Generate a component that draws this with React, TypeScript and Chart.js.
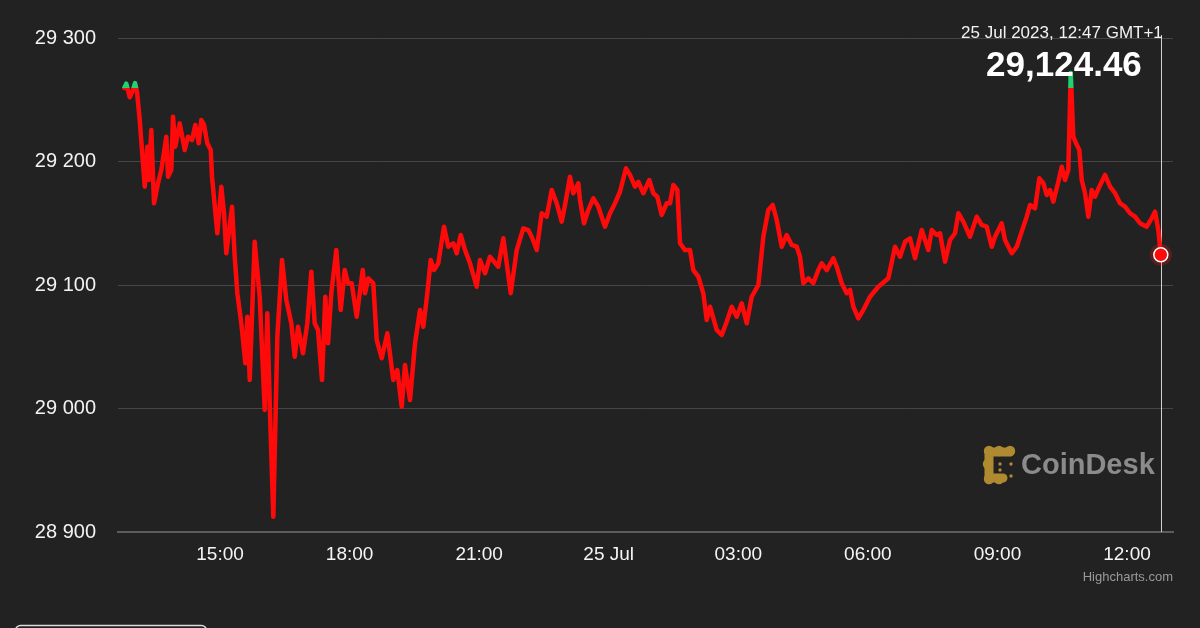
import { useEffect, useRef } from 'react';
import { Chart, registerables } from 'chart.js';

Chart.register(...registerables);

// time in hours since 24 Jul 2023 00:00 (GMT+1)
const hours = [
  12.783, 12.83, 12.91, 12.986, 13.032, 13.078, 13.141, 13.257, 13.317, 13.349,
  13.409, 13.472, 13.564, 13.641, 13.757, 13.796, 13.872, 13.912, 13.965, 14.067,
  14.183, 14.259, 14.352, 14.428, 14.507, 14.567, 14.63, 14.706, 14.785, 14.815,
  14.937, 15.03, 15.093, 15.146, 15.278, 15.34, 15.401, 15.493, 15.586, 15.632,
  15.688, 15.803, 15.919, 16.035, 16.095, 16.151, 16.234, 16.327, 16.436, 16.535,
  16.651, 16.73, 16.806, 16.922, 17.021, 17.114, 17.193, 17.269, 17.362, 17.438,
  17.501, 17.577, 17.693, 17.795, 17.887, 17.964, 18.049, 18.165, 18.304, 18.357,
  18.434, 18.549, 18.628, 18.744, 18.874, 19.012, 19.105, 19.207, 19.283, 19.399,
  19.515, 19.631, 19.707, 19.8, 19.878, 19.955, 20.054, 20.186, 20.286, 20.402,
  20.48, 20.573, 20.673, 20.788, 20.943, 21.02, 21.136, 21.251, 21.443, 21.559,
  21.638, 21.731, 21.87, 22.022, 22.138, 22.217, 22.333, 22.448, 22.564, 22.68,
  22.796, 22.912, 22.988, 23.104, 23.18, 23.296, 23.335, 23.428, 23.527, 23.643,
  23.759, 23.914, 24.03, 24.146, 24.261, 24.4, 24.493, 24.609, 24.685, 24.801,
  24.94, 25.033, 25.125, 25.227, 25.343, 25.419, 25.496, 25.588, 25.651, 25.766,
  25.882, 25.959, 26.075, 26.19, 26.269, 26.345, 26.5, 26.616, 26.732, 26.848,
  26.963, 27.079, 27.195, 27.311, 27.464, 27.58, 27.695, 27.797, 27.89, 28.006,
  28.121, 28.237, 28.353, 28.429, 28.506, 28.622, 28.737, 28.853, 28.932, 29.048,
  29.2, 29.279, 29.395, 29.511, 29.587, 29.664, 29.779, 29.895, 30.05, 30.242,
  30.474, 30.629, 30.745, 30.861, 30.976, 31.092, 31.247, 31.4, 31.479, 31.595,
  31.671, 31.787, 31.903, 32.018, 32.095, 32.21, 32.365, 32.52, 32.636, 32.752,
  32.868, 32.944, 33.099, 33.176, 33.331, 33.447, 33.562, 33.678, 33.755, 33.87,
  33.97, 34.063, 34.141, 34.218, 34.294, 34.41, 34.489, 34.565, 34.641, 34.697,
  34.757, 34.82, 34.896, 34.952, 35.028, 35.105, 35.183, 35.26, 35.359, 35.491,
  35.607, 35.723, 35.838, 35.954, 36.07, 36.186, 36.301, 36.456, 36.572, 36.649,
  36.725, 36.783,
];

const prices = [
  29259.5, 29263.0, 29252.0, 29257.9, 29263.5, 29256.3, 29233.6, 29179.6, 29212.0, 29185.0,
  29225.5, 29166.2, 29182.4, 29193.1, 29220.1, 29187.7, 29193.1, 29236.3, 29212.0, 29230.9,
  29209.3, 29220.1, 29217.4, 29229.6, 29214.7, 29233.6, 29229.6, 29214.7, 29209.3, 29187.7,
  29141.9, 29179.6, 29158.1, 29125.7, 29163.4, 29122.9, 29093.3, 29069.0, 29036.6, 29074.3,
  29023.1, 29135.1, 29090.5, 28998.8, 29077.1, 29004.2, 28912.4, 29058.1, 29120.2, 29087.9,
  29069.0, 29041.9, 29066.2, 29044.7, 29069.0, 29110.8, 29069.0, 29063.6, 29023.1, 29090.5,
  29052.8, 29093.3, 29128.3, 29079.8, 29112.1, 29101.4, 29101.4, 29074.3, 29112.1, 29093.3,
  29105.4, 29101.4, 29055.5, 29040.7, 29060.9, 29023.1, 29031.2, 29001.5, 29035.2, 29006.9,
  29052.8, 29079.8, 29066.2, 29093.3, 29120.2, 29112.1, 29117.6, 29147.2, 29131.0, 29133.8,
  29125.7, 29140.5, 29128.3, 29117.6, 29098.6, 29120.2, 29109.5, 29122.9, 29114.8, 29137.8,
  29117.6, 29093.3, 29128.3, 29145.9, 29144.5, 29139.1, 29128.3, 29158.1, 29155.3, 29176.9,
  29166.2, 29151.3, 29164.8, 29187.7, 29174.3, 29182.4, 29168.8, 29150.0, 29160.7, 29170.2,
  29163.4, 29147.2, 29158.1, 29166.2, 29175.5, 29194.5, 29189.1, 29179.6, 29183.6, 29174.3,
  29185.0, 29174.3, 29171.5, 29156.7, 29166.2, 29166.2, 29181.0, 29177.0, 29133.8, 29128.3,
  29128.3, 29112.1, 29106.7, 29093.3, 29071.7, 29082.4, 29063.6, 29059.5, 29070.3, 29082.4,
  29074.3, 29085.2, 29069.0, 29090.5, 29100.0, 29139.1, 29160.7, 29164.8, 29152.6, 29131.0,
  29140.5, 29132.4, 29131.0, 29122.9, 29101.4, 29105.4, 29101.4, 29112.1, 29117.6, 29112.1,
  29121.6, 29114.8, 29101.4, 29093.3, 29096.0, 29082.4, 29073.0, 29079.8, 29090.5, 29098.6,
  29105.4, 29131.0, 29122.9, 29135.1, 29137.8, 29121.6, 29144.5, 29128.3, 29144.5, 29140.5,
  29141.9, 29118.9, 29136.4, 29141.9, 29158.1, 29151.3, 29139.1, 29155.3, 29148.6, 29147.2,
  29131.0, 29139.1, 29150.0, 29136.4, 29125.7, 29131.0, 29143.2, 29155.3, 29164.8, 29162.1,
  29186.4, 29182.4, 29172.9, 29176.9, 29167.5, 29183.6, 29195.8, 29185.0, 29193.1, 29271.7,
  29220.1, 29214.7, 29209.3, 29185.0, 29174.3, 29155.3, 29176.9, 29171.5, 29179.6, 29189.1,
  29179.6, 29174.3, 29166.2, 29163.4, 29158.1, 29155.3, 29150.0, 29147.2, 29154.0, 29159.4,
  29144.5, 29124.46,
];

const xTickValues = [15, 18, 21, 24, 27, 30, 33, 36];
const xTickLabels = ['15:00', '18:00', '21:00', '25 Jul', '03:00', '06:00', '09:00', '12:00'];
const yTickValues = [28900, 29000, 29100, 29200, 29300];
const yTickLabels = ['28 900', '29 000', '29 100', '29 200', '29 300'];

const headerDate = '25 Jul 2023, 12:47 GMT+1';
const headerPrice = '29,124.46';
const watermark = 'CoinDesk';
const credit = 'Highcharts.com';

const FONT = '"Liberation Sans", Arial, Helvetica, sans-serif';
const RED = '#ff0a0a';
const GREEN = '#22cf72';
const BG = '#222222';

export default function App() {
  const canvasRef = useRef<HTMLCanvasElement | null>(null);

  useEffect(() => {
    const canvas = canvasRef.current;
    if (!canvas) return;
    const openPrice = prices[0];
    const lastIdx = hours.length - 1;

    const overlay = {
      id: 'overlay',
      beforeDatasetsDraw(chart: any) {
        const { ctx, chartArea, scales } = chart;
        const lx = Math.round(scales.x.getPixelForValue(hours[lastIdx])) + 0.5;
        ctx.save();
        // watermark logo
        ctx.fillStyle = '#b08a31';
        ctx.strokeStyle = '#b08a31';
        ctx.lineWidth = 9;
        ctx.lineCap = 'round';
        ctx.lineJoin = 'round';
        ctx.beginPath();
        ctx.moveTo(1010, 452);
        ctx.lineTo(989, 452);
        ctx.lineTo(989, 478);
        ctx.lineTo(1003, 478);
        ctx.stroke();
        const bumps = [[989, 451], [999, 451], [1010, 451], [988, 464], [989, 479], [999, 479]];
        bumps.forEach(([bx, by]) => {
          ctx.beginPath();
          ctx.arc(bx, by, 5.2, 0, Math.PI * 2);
          ctx.fill();
        });
        const dots = [[1000, 464], [1011, 464], [1011, 476], [1000, 470]];
        dots.forEach(([dx, dy]) => {
          ctx.beginPath();
          ctx.arc(dx, dy, 1.7, 0, Math.PI * 2);
          ctx.fill();
        });
        ctx.fillStyle = '#8b8b8b';
        ctx.font = `bold 29px ${FONT}`;
        ctx.textAlign = 'left';
        ctx.textBaseline = 'middle';
        ctx.fillText(watermark, 1021, 466);
        // crosshair
        ctx.strokeStyle = '#d0d0d0';
        ctx.lineWidth = 1;
        ctx.lineCap = 'butt';
        ctx.beginPath();
        ctx.moveTo(lx, chartArea.top - 3);
        ctx.lineTo(lx, chartArea.bottom);
        ctx.stroke();
        ctx.restore();
      },
      afterDatasetsDraw(chart: any) {
        const { ctx, chartArea, scales } = chart;
        const px = scales.x.getPixelForValue(hours[lastIdx]);
        const py = scales.y.getPixelForValue(prices[lastIdx]);
        ctx.save();
        // halo + marker
        ctx.fillStyle = 'rgba(255,20,20,0.25)';
        ctx.beginPath();
        ctx.arc(px, py, 11, 0, Math.PI * 2);
        ctx.fill();
        ctx.fillStyle = RED;
        ctx.strokeStyle = '#ffffff';
        ctx.lineWidth = 1.5;
        ctx.beginPath();
        ctx.arc(px, py, 7, 0, Math.PI * 2);
        ctx.fill();
        ctx.stroke();
        // header texts
        ctx.fillStyle = '#f2f2f2';
        ctx.textAlign = 'right';
        ctx.textBaseline = 'middle';
        ctx.font = `17px ${FONT}`;
        ctx.fillText(headerDate, px + 2, 33);
        ctx.fillStyle = '#ffffff';
        ctx.font = `bold 35px ${FONT}`;
        ctx.fillText(headerPrice, px - 19, 66);
        // credit
        ctx.fillStyle = '#9a9a9a';
        ctx.font = `13px ${FONT}`;
        ctx.fillText(credit, chartArea.right, 577);
        // bottom-left button outline
        ctx.strokeStyle = '#dcdcdc';
        ctx.lineWidth = 1.5;
        ctx.beginPath();
        (ctx as any).roundRect(15.5, 625.5, 191, 20, 5);
        ctx.stroke();
        ctx.restore();
      },
    };

    const chart = new Chart(canvas, {
      type: 'line',
      data: {
        datasets: [
          {
            data: hours.map((h, i) => ({ x: h, y: prices[i] })),
            borderWidth: 4.5,
            pointRadius: 0,
            tension: 0,
            borderJoinStyle: 'round',
            borderCapStyle: 'round',
            fill: false,
            borderColor: (c: any) => {
              const ch = c.chart;
              const area = ch.chartArea;
              if (!area) return RED;
              const yp = ch.scales.y.getPixelForValue(openPrice);
              let t = (yp - area.top) / (area.bottom - area.top);
              t = Math.max(0, Math.min(1, t));
              const g = ch.ctx.createLinearGradient(0, area.top, 0, area.bottom);
              g.addColorStop(0, GREEN);
              g.addColorStop(t, GREEN);
              g.addColorStop(t, RED);
              g.addColorStop(1, RED);
              return g;
            },
          } as any,
        ],
      },
      options: {
        animation: false,
        responsive: false,
        maintainAspectRatio: false,
        layout: { padding: { top: 38, right: 27, left: 0, bottom: 0 } },
        plugins: { legend: { display: false }, tooltip: { enabled: false } },
        events: [],
        scales: {
          x: {
            type: 'linear',
            min: 12.638,
            max: 37.065,
            afterBuildTicks: (s: any) => {
              s.ticks = xTickValues.map((v) => ({ value: v }));
            },
            afterFit: (s: any) => {
              s.height = 96;
            },
            grid: { display: false, drawTicks: false },
            border: { display: true, color: '#5c5c5c', width: 2 },
            ticks: {
              autoSkip: false,
              maxRotation: 0,
              padding: 11,
              color: '#f5f5f5',
              font: { family: FONT, size: 19 },
              callback: (v: any) => {
                const i = xTickValues.indexOf(Number(v));
                return i >= 0 ? xTickLabels[i] : '';
              },
            },
          },
          y: {
            type: 'linear',
            min: 28900,
            max: 29300,
            afterBuildTicks: (s: any) => {
              s.ticks = yTickValues.map((v) => ({ value: v }));
            },
            afterFit: (s: any) => {
              s.width = 118;
            },
            grid: { color: '#464646', lineWidth: 1, drawTicks: false },
            border: { display: false },
            ticks: {
              padding: 22,
              color: '#f2f2f2',
              font: { family: FONT, size: 20 },
              callback: (v: any) => {
                const i = yTickValues.indexOf(Number(v));
                return i >= 0 ? yTickLabels[i] : '';
              },
            },
          },
        },
      } as any,
      plugins: [overlay],
    });

    return () => chart.destroy();
  }, []);

  return (
    <div
      style={{
        position: 'fixed',
        left: 0,
        top: 0,
        width: 1200,
        height: 628,
        background: BG,
        overflow: 'hidden',
      }}
    >
      <canvas ref={canvasRef} width={1200} height={628} style={{ width: 1200, height: 628, display: 'block' }} />
    </div>
  );
}
